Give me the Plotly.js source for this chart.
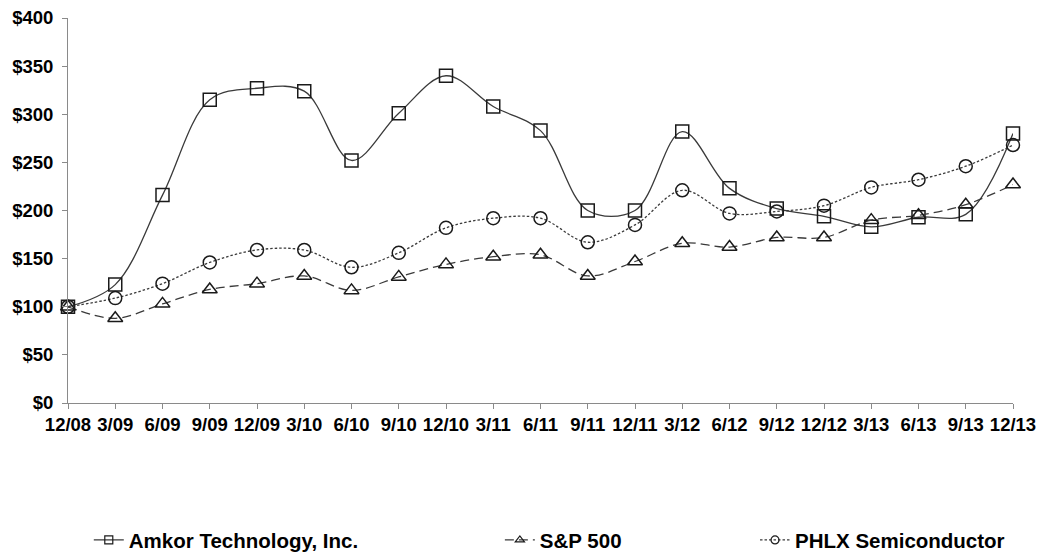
<!DOCTYPE html>
<html>
<head>
<meta charset="utf-8">
<script src="https://cdn.plot.ly/plotly-3.0.1.min.js"></script>
<style>
html,body{margin:0;padding:0;background:#fff;}
#chart{width:1043px;height:554px;}
</style>
</head>
<body>
<div id="chart"></div>
<script>
const categories = ["12/08","3/09","6/09","9/09","12/09","3/10","6/10","9/10","12/10","3/11","6/11","9/11","12/11","3/12","6/12","9/12","12/12","3/13","6/13","9/13","12/13"];
const amkor = [100,123,216,315,327,324,252,301,340,308,283,200,200,282,223,202,194,183,193,196,280];
const sp500 = [100,88,103,118,124,132,117,131,144,152,154,132,147,166,162,172,172,190,195,206,227];
const phlx  = [100,109,124,146,159,159,141,156,182,192,192,167,185,221,197,199,205,224,232,246,268];
const seriesNames = ["Amkor Technology, Inc.","S&P 500","PHLX Semiconductor"];
const yTickVals = [0,50,100,150,200,250,300,350,400];
const yTickText = ["$0","$50","$100","$150","$200","$250","$300","$350","$400"];

const FONT = "Liberation Sans, Arial, Helvetica, sans-serif";
const ink = "#1a1a1a";

function mainTrace(y, symbol, dash, lineColor){
  return {
    x: categories, y: y, type: "scatter", mode: "lines+markers",
    line: {shape: "spline", smoothing: 1, color: lineColor, width: 1.3, dash: dash},
    marker: {symbol: symbol, size: 13, color: ink, line: {color: ink, width: 1.5}},
    cliponaxis: false, showlegend: false, hoverinfo: "skip"
  };
}
function legendTrace(name, symbol, dash, lineColor, legendId){
  return {
    x: [null], y: [null], type: "scatter", mode: "lines+markers", name: name,
    line: {color: lineColor, width: 1.3, dash: dash},
    marker: {symbol: symbol, size: 8, color: ink, line: {color: ink, width: 1.2}},
    showlegend: true, legend: legendId
  };
}

const data = [
  mainTrace(amkor, "square-open", "solid", "#3a3a3a"),
  mainTrace(sp500, "triangle-up-open", "9px,5px", "#3a3a3a"),
  mainTrace(phlx, "circle-open", "2.5px,2px", "#3a3a3a"),
  legendTrace(seriesNames[0], "square-open", "solid", "#3a3a3a", "legend"),
  legendTrace(seriesNames[1], "triangle-up-open", "9px,5px", "#3a3a3a", "legend2"),
  legendTrace(seriesNames[2], "circle-open", "2.5px,2px", "#3a3a3a", "legend3")
];

const legFont = {family: FONT, size: 20.5, weight: "bold", color: "#000"};
function leg(x){
  return {x: x, y: -0.356, xanchor: "left", yanchor: "middle", orientation: "h",
          font: legFont, bgcolor: "rgba(0,0,0,0)", borderwidth: 0, itemclick: false};
}

const layout = {
  width: 1043, height: 554,
  margin: {l: 68, r: 30, t: 17.5, b: 151.3, pad: 0, autoexpand: false},
  paper_bgcolor: "#fff", plot_bgcolor: "#fff",
  font: {family: FONT, color: "#000"},
  xaxis: {
    type: "category", range: [0, 20], showgrid: false, zeroline: false,
    showline: true, linecolor: "#8a8a8a", linewidth: 1,
    ticks: "outside", ticklen: 5, tickcolor: "#8a8a8a", tickwidth: 1,
    tickangle: 0, tickfont: {family: FONT, size: 18.5, weight: "bold", color: "#000"},
    automargin: false, fixedrange: true
  },
  yaxis: {
    range: [0, 400], tickvals: yTickVals, ticktext: yTickText,
    showgrid: false, zeroline: false,
    showline: true, linecolor: "#8a8a8a", linewidth: 1,
    ticks: "outside", ticklen: 5, tickcolor: "#8a8a8a", tickwidth: 1,
    ticklabelstandoff: 5,
    tickfont: {family: FONT, size: 18.5, weight: "bold", color: "#000"},
    automargin: false, fixedrange: true
  },
  legend: leg(0.022),
  legend2: leg(0.457),
  legend3: leg(0.727),
  showlegend: true
};

Plotly.newPlot("chart", data, layout, {displayModeBar: false, staticPlot: true});
</script>
</body>
</html>
